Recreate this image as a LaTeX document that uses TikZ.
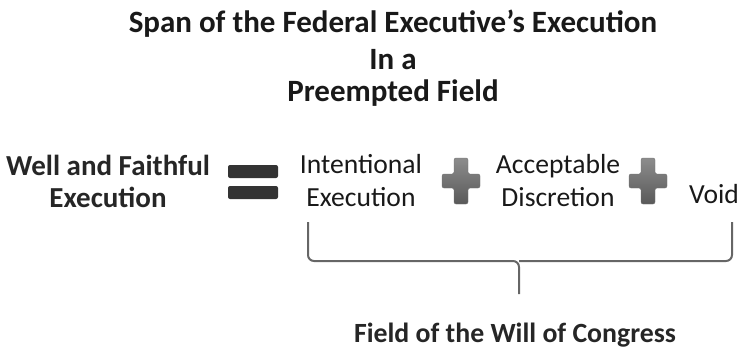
\documentclass[tikz,border=0pt]{standalone}
\usepackage{fontspec}
\setmainfont{Carlito}
\usetikzlibrary{positioning}
\begin{document}
\begin{tikzpicture}[x=1pt,y=-1pt,
  title/.style={font=\bfseries\fontsize{31}{36}\selectfont, align=center, text=black!90},
  bold/.style={font=\bfseries\fontsize{29}{32}\selectfont, align=center, text=black!85},
  boldb/.style={font=\bfseries\fontsize{27.8}{32}\selectfont, align=center, text=black!85},
  term/.style={font=\fontsize{27.6}{33}\selectfont, align=center, text=black!90},
  bar/.style={fill=black!80, rounded corners=2pt},
  plusshape/.style={top color=black!45, bottom color=black!65, draw=black!55, line width=0.4pt, rounded corners=2pt},
  bracestyle/.style={draw=black!60, line width=2pt, rounded corners=6pt}]
\useasboundingbox (0,0) rectangle (743,351);
\node[title] (t1) at (393,24) {Span of the Federal Executive’s Execution};
\node[title] (t2) at (393,60) {In a};
\node[title] (t3) at (393,93) {Preempted Field};
\node[bold] (well) at (108,181) {Well and Faithful\\Execution};
\fill[bar] (228,165) rectangle (278,178);
\fill[bar] (228,186) rectangle (278,199);
\node[term] (ie) at (361,181) {Intentional\\Execution};
\begin{scope}[shift={(461,181)}]
\path[plusshape] (-7,-23) -- (7,-23) -- (7,-7) -- (19,-7) -- (19,7) -- (7,7) -- (7,23) -- (-7,23) -- (-7,7) -- (-19,7) -- (-19,-7) -- (-7,-7) -- cycle;
\end{scope}
\node[term] (ad) at (558,181) {Acceptable\\Discretion};
\begin{scope}[shift={(648,181)}]
\path[plusshape] (-7,-23) -- (7,-23) -- (7,-7) -- (19,-7) -- (19,7) -- (7,7) -- (7,23) -- (-7,23) -- (-7,7) -- (-19,7) -- (-19,-7) -- (-7,-7) -- cycle;
\end{scope}
\node[term] (void) at (714,194) {Void};
\coordinate (bl) at (308,222);
\coordinate (br) at (732,222);
\coordinate (tip) at (519,294);
\draw[bracestyle] (bl) -- (308,261) -- (519,261) -- (tip);
\draw[bracestyle] (br) -- (732,261) -- (519,261);
\node[boldb] (field) at (515,335) {Field of the Will of Congress};
\end{tikzpicture}
\end{document}
